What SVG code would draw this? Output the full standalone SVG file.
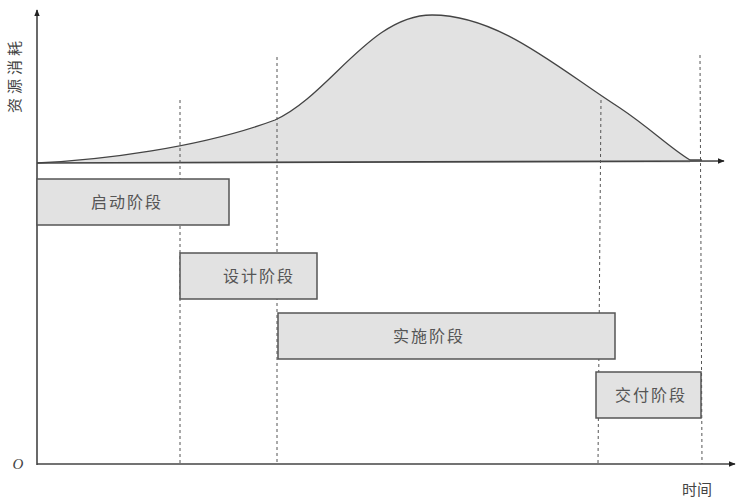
<svg xmlns="http://www.w3.org/2000/svg" width="737" height="501" viewBox="0 0 737 501">
<style>
.ax{stroke:#444;stroke-width:1.6;fill:none}
.dash{stroke:#555;stroke-width:1;stroke-dasharray:3,3;fill:none}
.box{fill:#e2e2e2;stroke:#555;stroke-width:1.5}
.lbl{font-family:"Liberation Serif","Noto Sans CJK SC",serif;font-size:16px;letter-spacing:2px;fill:#555;text-anchor:middle;dominant-baseline:central}
.t{font-family:"Liberation Serif","Noto Sans CJK SC",serif;font-size:15px;fill:#444;text-anchor:middle;dominant-baseline:central}
</style>
<defs>
<marker id="arr" viewBox="0 0 10 10" refX="9" refY="5" markerWidth="7" markerHeight="7" orient="auto" markerUnits="userSpaceOnUse">
<path d="M0,1 L10,5 L0,9 Z" fill="#222"/>
</marker>
</defs>
<rect width="737" height="501" fill="#fff"/>
<g id="curve">
<path d="M37,163 C100,160 200,148 275,120 C330,95 370,15 432,15 C500,15 560,70 620,108 C650,128 670,148 690,160 L690,163 L37,163 Z" fill="#e2e2e2" stroke="none"/>
<path d="M37,163 C100,160 200,148 275,120 C330,95 370,15 432,15 C500,15 560,70 620,108 C650,128 670,148 690,160 L702,160" fill="none" stroke="#444" stroke-width="1.3"/>
</g>
<g id="connectors">
<line class="ax" x1="37" y1="465" x2="37" y2="10" marker-end="url(#arr)"/>
<line class="ax" x1="37" y1="464" x2="735" y2="464" marker-end="url(#arr)"/>
<line class="ax" x1="37" y1="163" x2="724" y2="161" stroke-width="1.2" marker-end="url(#arr)"/>
<line class="dash" x1="180" y1="100" x2="180" y2="464"/>
<line class="dash" x1="277" y1="57" x2="277" y2="464"/>
<line class="dash" x1="601" y1="100" x2="598" y2="464"/>
<line class="dash" x1="700" y1="55" x2="702" y2="464"/>
</g>
<g id="n1"><rect class="box" x="37" y="179" width="192" height="46"/><text class="lbl" x="127" y="202">启动阶段</text></g>
<g id="n2"><rect class="box" x="180" y="253" width="137" height="46"/><text class="lbl" x="259" y="276">设计阶段</text></g>
<g id="n3"><rect class="box" x="278" y="313" width="337" height="46"/><text class="lbl" x="429" y="336">实施阶段</text></g>
<g id="n4"><rect class="box" x="596" y="372" width="105" height="46"/><text class="lbl" x="651" y="395">交付阶段</text></g>
<text class="t" x="15" y="75" letter-spacing="4" transform="rotate(-90 15 75)">资源消耗</text>
<text x="18" y="464" font-family="Liberation Serif,serif" font-style="italic" font-size="15" fill="#444" text-anchor="middle" dominant-baseline="central">O</text>
<text class="t" x="697" y="490">时间</text>
</svg>
